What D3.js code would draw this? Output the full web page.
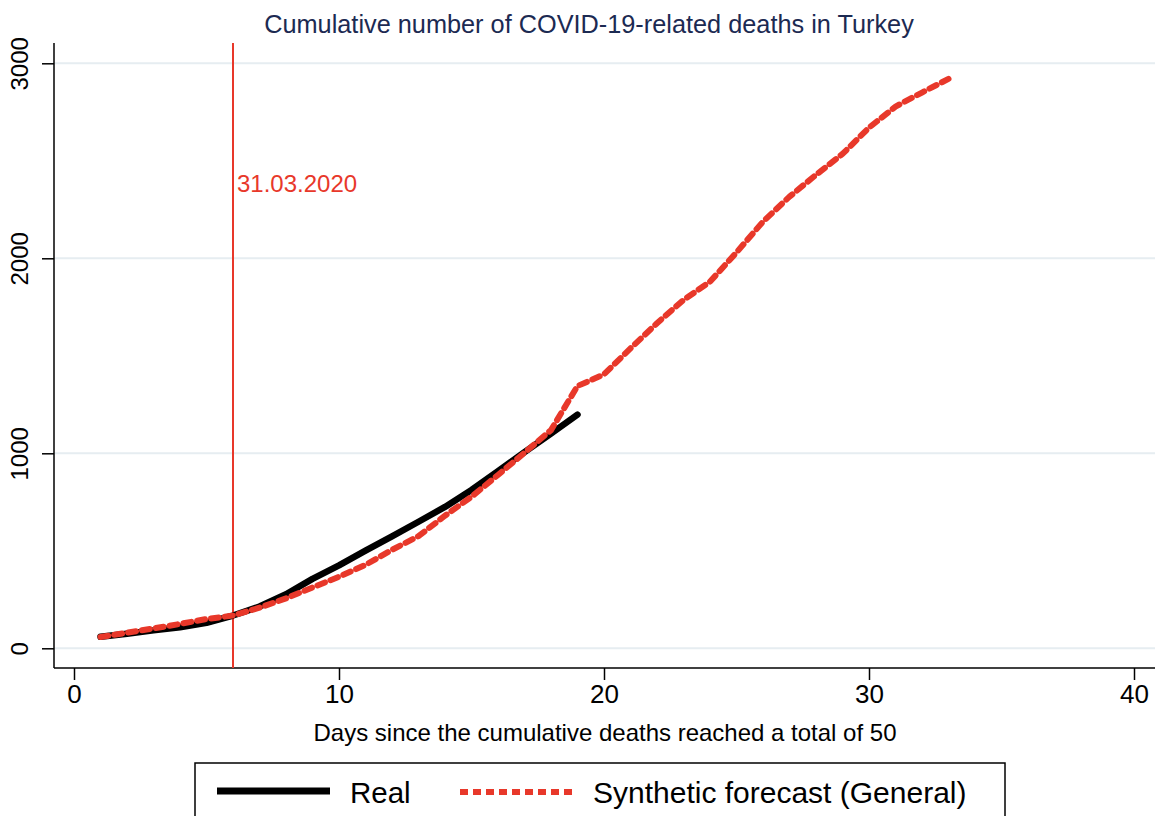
<!DOCTYPE html>
<html><head><meta charset="utf-8">
<script src="https://cdn.jsdelivr.net/npm/d3@7/dist/d3.min.js"></script>
<style>body{margin:0;background:#fff}svg{display:block}text{font-family:"Liberation Sans",Arial,sans-serif}</style>
</head><body><svg id="c" width="1160" height="816"></svg>
<script>
const days = d3.range(1, 34);
const realValues = [59,75,92,108,131,168,214,277,356,425,501,574,649,725,812,908,1006,1101,1198];
const syntheticValues = [58,80,102,125,150,168,208,256,312,367,428,505,575,680,777,889,1003,1119,1345,1405,1538,1667,1786,1880,2030,2188,2316,2428,2535,2670,2778,2850,2920];
const xTicks = [0,10,20,30,40];
const yTicks = [0,1000,2000,3000];
const eventDay = 6;
const eventLabel = "31.03.2020";
const title = "Cumulative number of COVID-19-related deaths in Turkey";
const xTitle = "Days since the cumulative deaths reached a total of 50";
const legendLabels = ["Real", "Synthetic forecast (General)"];

(function(){
const RED = "#e8382a";
const svg = d3.select("#c");
const x = d3.scaleLinear().domain([0,40]).range([74,1134]);
const y = d3.scaleLinear().domain([0,3000]).range([648.3,63.3]);
const pL = 54, pR = 1155, pT = 43, pB = 668;

// gridlines
svg.append("g").selectAll("line").data(yTicks).join("line")
  .attr("x1", pL).attr("x2", pR).attr("y1", d=>y(d)).attr("y2", d=>y(d))
  .attr("stroke", "#e6edf1").attr("stroke-width", 2);

// axes
const yAxis = svg.append("g").attr("transform", `translate(${pL},0)`)
  .call(d3.axisLeft(y).tickValues(yTicks).tickSize(12).tickPadding(10).tickFormat(d3.format("d")));
yAxis.select(".domain").remove();
yAxis.append("line").attr("x1",0).attr("x2",0).attr("y1",pT).attr("y2",pB).attr("stroke","#000").attr("stroke-width",1.5);
yAxis.selectAll(".tick line").attr("stroke-width",1.5);
yAxis.selectAll(".tick text").attr("font-size",24).attr("fill","#000")
  .attr("text-anchor","middle").attr("x",0).attr("y",0).attr("dy",0)
  .attr("transform","translate(-26,0) rotate(-90)");

const xAxis = svg.append("g").attr("transform", `translate(0,${pB})`)
  .call(d3.axisBottom(x).tickValues(xTicks).tickSize(12).tickPadding(5).tickFormat(d3.format("d")));
xAxis.select(".domain").remove();
xAxis.append("line").attr("x1",pL).attr("x2",pR).attr("y1",0).attr("y2",0).attr("stroke","#000").attr("stroke-width",1.5);
xAxis.selectAll(".tick line").attr("stroke-width",1.5);
xAxis.selectAll(".tick text").attr("font-size",26).attr("fill","#000");

// event line
svg.append("line").attr("x1", x(eventDay)).attr("x2", x(eventDay)).attr("y1", pT).attr("y2", pB)
  .attr("stroke", RED).attr("stroke-width", 2);
svg.append("text").attr("x", x(eventDay)+4).attr("y", 192).attr("font-size", 24).attr("fill", RED).text(eventLabel);

// lines
const realData = realValues.map((v,i)=>[days[i], v]);
const synData = syntheticValues.map((v,i)=>[days[i], v]);
const line = d3.line().x(d=>x(d[0])).y(d=>y(d[1]));
svg.append("path").datum(realData).attr("d", line).attr("fill","none")
  .attr("stroke","#000").attr("stroke-width",6.5).attr("stroke-linecap","round").attr("stroke-linejoin","round");
svg.append("path").datum(synData).attr("d", line).attr("fill","none")
  .attr("stroke",RED).attr("stroke-width",6).attr("stroke-linecap","round").attr("stroke-linejoin","round")
  .attr("stroke-dasharray","8,6");

// titles
svg.append("text").attr("x", 589).attr("y", 33).attr("text-anchor","middle").attr("font-size", 25.3)
  .attr("fill", "#1c2a52").text(title);
svg.append("text").attr("x", 605).attr("y", 741).attr("text-anchor","middle").attr("font-size", 24)
  .attr("fill", "#000").text(xTitle);

// legend
const lg = svg.append("g");
lg.append("rect").attr("x",195).attr("y",763).attr("width",810).attr("height",70)
  .attr("fill","#fff").attr("stroke","#000").attr("stroke-width",1.5);
lg.append("line").attr("x1",217).attr("x2",330).attr("y1",791).attr("y2",791).attr("stroke","#000").attr("stroke-width",7);
lg.append("text").attr("x",350).attr("y",803).attr("font-size",29.5).text(legendLabels[0]);
lg.append("line").attr("x1",460).attr("x2",573).attr("y1",792).attr("y2",792).attr("stroke",RED).attr("stroke-width",6)
  .attr("stroke-dasharray","8,5");
lg.append("text").attr("x",593).attr("y",803).attr("font-size",30).text(legendLabels[1]);
})();
</script></body></html>
